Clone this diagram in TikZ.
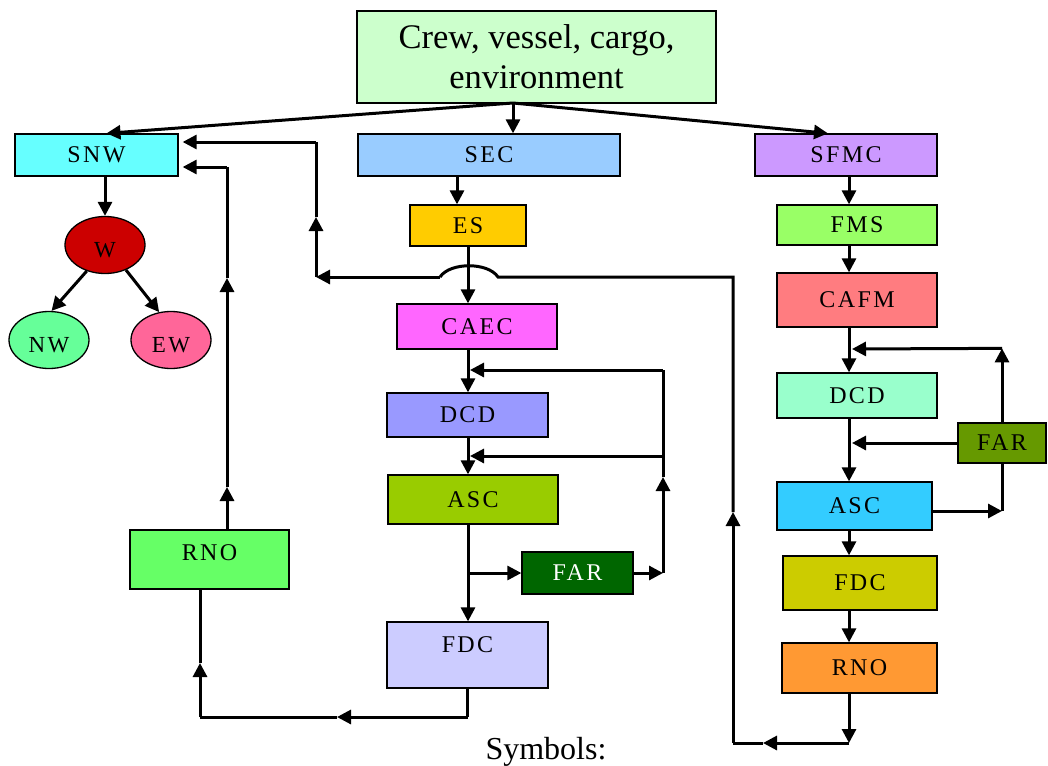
\documentclass[tikz,border=0pt]{standalone}
\usepackage{fontspec}
\setmainfont{Liberation Serif}
\newfontfamily\lblfam[LetterSpace=10]{Liberation Serif}
\usetikzlibrary{arrows.meta,shapes.geometric}
\definecolor{cTop}{HTML}{CCFFCC}
\definecolor{cSNW}{HTML}{66FFFF}
\definecolor{cSEC}{HTML}{99CCFF}
\definecolor{cSFMC}{HTML}{CC99FF}
\definecolor{cES}{HTML}{FFCC00}
\definecolor{cFMS}{HTML}{99FF66}
\definecolor{cCAFM}{HTML}{FF7C80}
\definecolor{cCAEC}{HTML}{FF66FF}
\definecolor{cDCDa}{HTML}{9999FF}
\definecolor{cASCa}{HTML}{99CC00}
\definecolor{cFARa}{HTML}{006600}
\definecolor{cFDCa}{HTML}{CCCCFF}
\definecolor{cRNOa}{HTML}{66FF66}
\definecolor{cDCDb}{HTML}{99FFCC}
\definecolor{cFARb}{HTML}{669900}
\definecolor{cASCb}{HTML}{33CCFF}
\definecolor{cFDCb}{HTML}{CCCC00}
\definecolor{cRNOb}{HTML}{FF9933}
\definecolor{cW}{HTML}{CC0000}
\definecolor{cNW}{HTML}{66FF99}
\definecolor{cEW}{HTML}{FF6699}
\begin{document}
\begin{tikzpicture}[x=1pt,y=-1pt,
  box/.style={draw=black, line width=1.3pt, rectangle, inner sep=0pt,
    font=\lblfam\fontsize{24}{28}\selectfont},
  ell/.style={draw=black, line width=1.3pt, ellipse, inner sep=0pt,
    minimum width=80pt, minimum height=57pt, text height=25pt,
    font=\lblfam\fontsize{23}{27}\selectfont},
  conn/.style={line width=3pt, -{Triangle[length=14pt,width=14pt]}},
  wire/.style={line width=3pt}]
\useasboundingbox (0,0) rectangle (1048,765);

% ---- nodes ----
\node[box, fill=cTop, minimum width=359pt, minimum height=92pt, align=center,
  font=\fontsize{34.5}{40}\selectfont] (top) at (536.5,57)
  {Crew, vessel, cargo,\\ environment};
\node[box, fill=cSNW, minimum width=163pt, minimum height=42pt] (SNW) at (96.5,155) {SNW};
\node[box, fill=cSEC, minimum width=262pt, minimum height=42pt] (SEC) at (489,155) {SEC};
\node[box, fill=cSFMC, minimum width=182pt, minimum height=42pt] (SFMC) at (846,155) {SFMC};
\node[box, fill=cES, minimum width=116pt, minimum height=41pt] (ES) at (468,225.5) {ES};
\node[box, fill=cFMS, minimum width=160pt, minimum height=40pt] (FMS) at (857,225) {FMS};
\node[box, fill=cCAFM, minimum width=160pt, minimum height=54pt] (CAFM) at (857,300) {CAFM};
\node[box, fill=cCAEC, minimum width=160pt, minimum height=45pt] (CAEC) at (477,326.5) {CAEC};
\node[box, fill=cDCDa, minimum width=161pt, minimum height=44pt] (DCDa) at (467.5,415) {DCD};
\node[box, fill=cASCa, minimum width=170pt, minimum height=49pt] (ASCa) at (473,499.5) {ASC};
\node[box, fill=cFARa, text=white, minimum width=111pt, minimum height=42pt] (FARa) at (577.5,573) {FAR};
\node[box, fill=cFDCa, minimum width=161pt, minimum height=66pt, text depth=20pt] (FDCa) at (467.5,655) {FDC};
\node[box, fill=cRNOa, minimum width=159pt, minimum height=59pt, text depth=13pt] (RNOa) at (209.5,559.5) {RNO};
\node[box, fill=cDCDb, minimum width=160pt, minimum height=45pt] (DCDb) at (857,395.5) {DCD};
\node[box, fill=cFARb, minimum width=88pt, minimum height=40pt] (FARb) at (1002,443) {FAR};
\node[box, fill=cASCb, minimum width=155pt, minimum height=48pt] (ASCb) at (854.5,506) {ASC};
\node[box, fill=cFDCb, minimum width=154pt, minimum height=54pt] (FDCb) at (860,583) {FDC};
\node[box, fill=cRNOb, minimum width=155pt, minimum height=50pt] (RNOb) at (859.5,668) {RNO};
\node[ell, fill=cW] (W) at (105,245) {W};
\node[ell, fill=cNW] (NW) at (49,340) {NW};
\node[ell, fill=cEW] (EW) at (171,340) {EW};
\node[anchor=base, inner sep=0pt, font=\fontsize{32}{38}\selectfont] (sym) at (546,759) {Symbols:};

% ---- helper coordinates ----
\coordinate (hub) at (513,103);
\coordinate (mcol) at (468,0);
\coordinate (rcol) at (849,0);

% ---- top fan ----
\draw[conn] (hub) -- ([xshift=10pt]SNW.north);
\draw[conn] (hub) -- (hub |- SEC.north);
\draw[conn] (hub) -- ([xshift=-18pt]SFMC.north);

% ---- left tree ----
\draw[conn] (W.north |- SNW.south) -- (W.north);
\draw[conn] (W.235) -- (NW.85);
\draw[conn] (W.-50) -- (EW.113);

% ---- middle column ----
\coordinate (esx) at (457,0);
\draw[conn] (esx |- SEC.south) -- (esx |- ES.north);
\draw[conn] (mcol |- ES.south) -- (mcol |- CAEC.north);
\draw[conn] (mcol |- CAEC.south) -- (mcol |- DCDa.north);
\draw[conn] (mcol |- DCDa.south) -- (mcol |- ASCa.north);
\draw[conn] (mcol |- ASCa.south) -- (mcol |- FDCa.north);
\coordinate (jf) at (mcol |- FARa.west);
\draw[conn] (jf) -- (FARa.west);
\coordinate (fr) at (663,573);
\coordinate (fm) at (663,477);
\coordinate (ft) at (663,370);
\coordinate (fb) at (663,456);
\coordinate (fttip) at (470,370);
\coordinate (fbtip) at (470,456);
\draw[conn] (FARa.east) -- (fr);
\draw[conn] (fr) -- (fm);
\draw[wire] (fm) -- (ft);
\draw[conn] (ft) -- (fttip);
\draw[conn] (fb) -- (fbtip);

% ---- right column ----
\draw[conn] (rcol |- SFMC.south) -- (rcol |- FMS.north);
\draw[conn] (rcol |- FMS.south) -- (rcol |- CAFM.north);
\draw[conn] (rcol |- CAFM.south) -- (rcol |- DCDb.north);
\draw[conn] (rcol |- DCDb.south) -- (rcol |- ASCb.north);
\draw[conn] (rcol |- ASCb.south) -- (rcol |- FDCb.north);
\draw[conn] (rcol |- FDCb.south) -- (rcol |- RNOb.north);
\path (FARb.north) ++(0,-74) coordinate (r1);
\coordinate (r1tip) at (852,349);
\coordinate (r2tip) at (852,443);
\coordinate (r3) at (1002,511);
\draw[conn] (FARb.north) -- (r1);
\draw[conn] (r1) -- (r1tip);
\draw[conn] (FARb.west) -- (r2tip);
\draw[conn] ([yshift=-5pt]ASCb.east) -- (r3);
\draw[wire] (r3) -- (FARb.south);

% ---- big feedback loop ----
\coordinate (b1) at (849,743);
\coordinate (b2) at (763,743);
\coordinate (b3) at (733,743);
\coordinate (b4) at (733,512);
\coordinate (b5) at (733,277);
\coordinate (bj1) at (498,277);
\coordinate (bj2) at (440,277);
\coordinate (b6) at (316,277);
\coordinate (b7) at (316,217);
\coordinate (b8) at (316,142);
\path (SNW.east |- b8) ++(4,0) coordinate (s1tip);
\draw[conn] (rcol |- RNOb.south) -- (b1);
\draw[conn] (b1) -- (b2);
\draw[wire] (b2) -- (b3);
\draw[conn] (b3) -- (b4);
\draw[wire] (b4) -- (b5) -- (bj1) .. controls (488,262) and (450,262) .. (bj2);
\draw[conn] (bj2) -- (b6);
\draw[conn] (b6) -- (b7);
\draw[wire] (b7) -- (b8);
\draw[conn] (b8) -- (s1tip);

% ---- left feedback loop ----
\coordinate (l1) at (467.5,717);
\coordinate (l2) at (337,717);
\coordinate (l3) at (200,717);
\coordinate (l4) at (200,663);
\coordinate (u0) at (227,0);
\coordinate (l5) at (227,487);
\coordinate (l6) at (227,278);
\coordinate (l7) at (227,167);
\path (SNW.east |- l7) ++(4,0) coordinate (s2tip);
\draw[wire] (FDCa.south) -- (l1);
\draw[conn] (l1) -- (l2);
\draw[wire] (l2) -- (l3);
\draw[conn] (l3) -- (l4);
\draw[wire] (l4) -- (l4 |- RNOa.south);
\draw[conn] (u0 |- RNOa.north) -- (l5);
\draw[conn] (l5) -- (l6);
\draw[wire] (l6) -- (l7);
\draw[conn] (l7) -- (s2tip);
\end{tikzpicture}
\end{document}
